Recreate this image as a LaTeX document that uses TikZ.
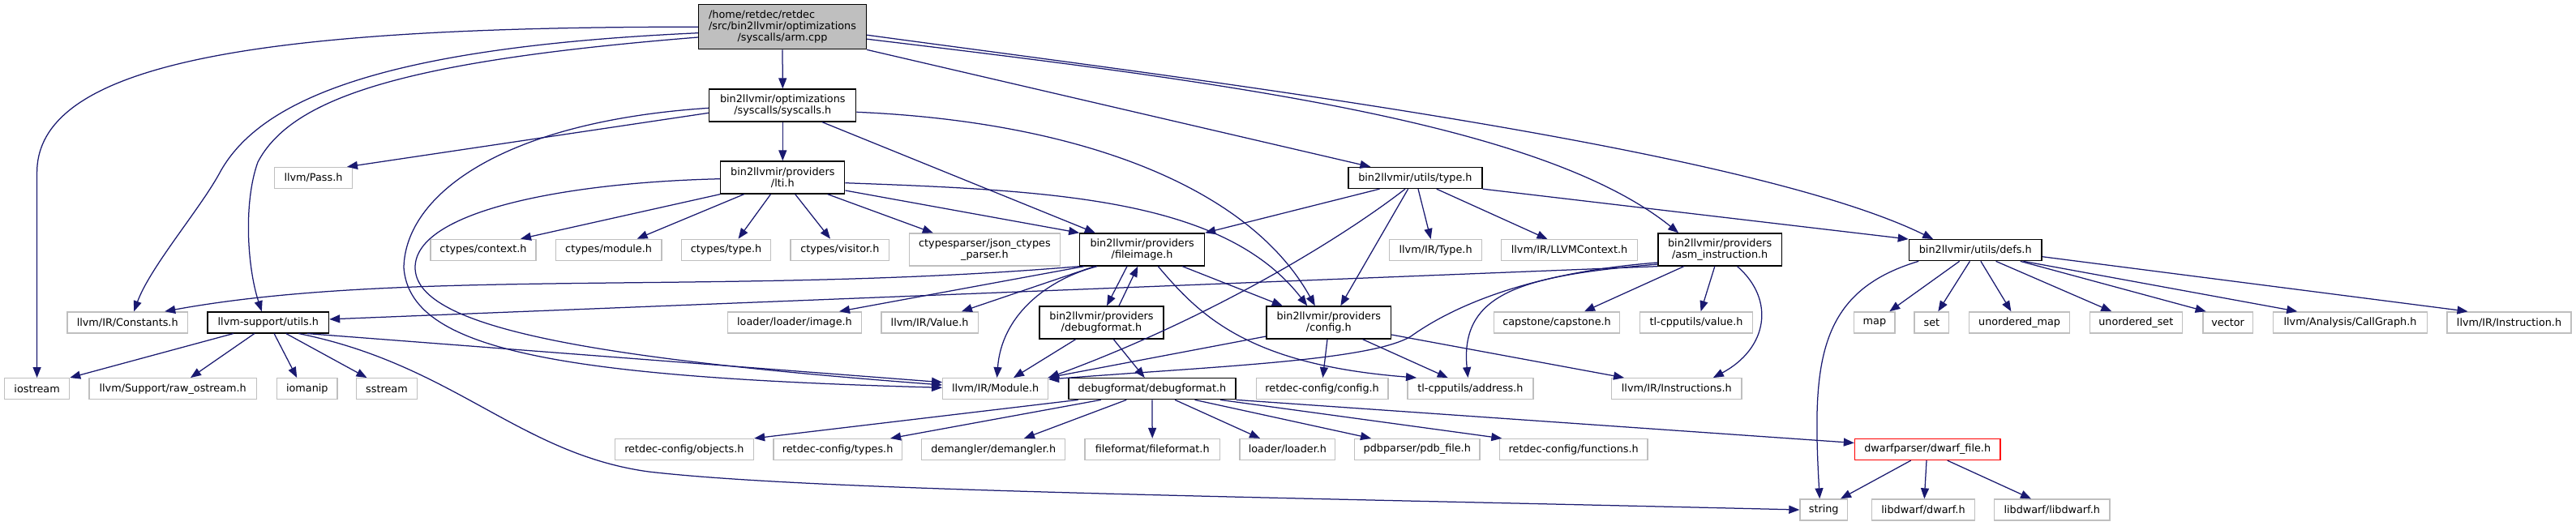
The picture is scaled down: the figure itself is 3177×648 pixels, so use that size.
\documentclass[tikz,border=0pt]{standalone}
\usepackage{fontspec}
\setmainfont{DejaVu Sans}
\usetikzlibrary{arrows.meta}
\definecolor{edgec}{HTML}{191970}
\definecolor{boxgray}{HTML}{BFBFBF}
\begin{document}
\begin{tikzpicture}[x=1pt,y=-1pt,
  nd/.style={rectangle, draw, line width=1.3pt, inner xsep=1pt, inner ysep=0pt,
    minimum height=26pt, align=center, fill=white,
    font=\fontsize{12.8pt}{14pt}\selectfont},
  ext/.style={nd, draw=boxgray},
  own/.style={nd, draw=black},
  two/.style={minimum height=40pt},
  mw/.style={minimum width=#1},
  lnk/.style={draw=edgec, line width=1.25pt, -{Triangle[length=13pt,width=10pt]}}
]
\fill[white] (0,0) rectangle (3177,648);
\useasboundingbox (0,0) rectangle (3177,648);

% row 0-2
\node[own, fill=boxgray, mw=207pt, minimum height=55pt] (arm) at (965,33.2)
  {\rlap{/home/retdec/retdec}\phantom{/src/bin2llvmir/optimizations}\\/src/bin2llvmir/optimizations\\/syscalls/arm.cpp};
\node[own, two, mw=181pt] (sys) at (965.3,130) {bin2llvmir/optimizations\\/syscalls/syscalls.h};
\node[ext, mw=95.4pt] (pass) at (386.5,219.5) {llvm/Pass.h};
\node[own, two, mw=153pt] (lti) at (965.3,219) {bin2llvmir/providers\\/lti.h};
\node[own, mw=165pt] (type) at (1745.4,219.5) {bin2llvmir/utils/type.h};

% row 3
\node[ext, mw=130pt] (ctxt) at (596,308.3) {ctypes/context.h};
\node[ext, mw=130.5pt] (cmod) at (750.6,308.3) {ctypes/module.h};
\node[ext, mw=110pt] (ctyp) at (895.5,308.3) {ctypes/type.h};
\node[ext, mw=121.5pt] (cvis) at (1035.8,308.3) {ctypes/visitor.h};
\node[ext, two, mw=186pt] (json) at (1214.4,308) {ctypesparser/json\_ctypes\\\_parser.h};
\node[own, two, mw=153.6pt] (fimg) at (1408.6,308) {bin2llvmir/providers\\/fileimage.h};
\node[ext, mw=114.4pt] (ltype) at (1770.6,308.7) {llvm/IR/Type.h};
\node[ext, mw=167.7pt] (lctx) at (1935.5,308.7) {llvm/IR/LLVMContext.h};
\node[own, two, mw=152.4pt] (asm) at (2121.2,308) {bin2llvmir/providers\\/asm\_instruction.h};
\node[own, mw=163.7pt] (defs) at (2436.2,308.7) {bin2llvmir/utils/defs.h};

% row 4
\node[ext, mw=148.7pt] (const) at (157.2,397.9) {llvm/IR/Constants.h};
\node[own, mw=149.5pt] (utils) at (330.8,397.9) {llvm-support/utils.h};
\node[ext, mw=165.6pt] (limg) at (980,397.9) {loader/loader/image.h};
\node[ext, mw=119.2pt] (lval) at (1146.6,397.9) {llvm/IR/Value.h};
\node[own, two, mw=153pt] (pdbg) at (1358.5,398) {bin2llvmir/providers\\/debugformat.h};
\node[own, two, mw=153.5pt] (pcfg) at (1638.8,398) {bin2llvmir/providers\\/config.h};
\node[ext, mw=155pt] (caps) at (1920,397.9) {capstone/capstone.h};
\node[ext, mw=139pt] (tval) at (2092,397.9) {tl-cpputils/value.h};
\node[ext, mw=50.3pt] (map) at (2311.9,397.9) {map};
\node[ext, mw=42.8pt] (set) at (2382.4,397.9) {set};
\node[ext, mw=124pt] (umap) at (2490.6,397.9) {unordered\_map};
\node[ext, mw=114pt] (uset) at (2634.3,397.9) {unordered\_set};
\node[ext, mw=61.5pt] (vec) at (2747.6,397.9) {vector};
\node[ext, mw=190.6pt] (cg) at (2898.5,397.9) {llvm/Analysis/CallGraph.h};
\node[ext, mw=153pt] (instr) at (3094.5,397.9) {llvm/IR/Instruction.h};

% row 5
\node[ext, mw=80pt] (ios) at (45.6,479.7) {iostream};
\node[ext, mw=206.4pt] (raw) at (213.2,479.7) {llvm/Support/raw\_ostream.h};
\node[ext, mw=74.4pt] (iom) at (378.8,479.7) {iomanip};
\node[ext, mw=74.4pt] (sst) at (477,479.7) {sstream};
\node[ext, mw=129.8pt] (mod) at (1227.6,479.7) {llvm/IR/Module.h};
\node[own, mw=206pt] (dbgf) at (1420.9,479.7) {debugformat/debugformat.h};
\node[ext, mw=162.7pt] (rcfg) at (1630.6,479.7) {retdec-config/config.h};
\node[ext, mw=155pt] (addr) at (1813.4,479.7) {tl-cpputils/address.h};
\node[ext, mw=160.2pt] (instrs) at (2067.8,479.7) {llvm/IR/Instructions.h};

% row 6
\node[ext, mw=171.2pt] (robj) at (843.9,554.5) {retdec-config/objects.h};
\node[ext, mw=158.2pt] (rtyp) at (1033.1,554.5) {retdec-config/types.h};
\node[ext, mw=176.8pt] (dem) at (1225.2,554.5) {demangler/demangler.h};
\node[ext, mw=166.4pt] (ffmt) at (1421.2,554.5) {fileformat/fileformat.h};
\node[ext, mw=117.8pt] (ldr) at (1587.9,554.5) {loader/loader.h};
\node[ext, mw=154.4pt] (pdb) at (1747.8,554.5) {pdbparser/pdb\_file.h};
\node[ext, mw=182.4pt] (rfun) at (1940.7,554.5) {retdec-config/functions.h};
\node[nd, draw=red, mw=179.5pt] (dwarf) at (2377.2,554.5) {dwarfparser/dwarf\_file.h};

% row 7
\node[ext, mw=58.5pt] (str) at (2249.2,629) {string};
\node[ext, mw=127pt] (ldw) at (2372,629) {libdwarf/dwarf.h};
\node[ext, mw=142.6pt] (libdw) at (2530.7,629) {libdwarf/libdwarf.h};

% ---- edges from arm.cpp
\draw[lnk] (arm.west) .. controls (330,33) and (45.6,75) .. (45.6,213) -- (ios.north);
\draw[lnk] ([yshift=-7.5pt]arm.west) .. controls (480,58) and (320,120) .. (270,215)
  .. controls (245,260) and (185,330) .. ([xshift=8pt]const.north);
\draw[lnk] ([yshift=-12.8pt]arm.west) .. controls (500,75) and (360,120) .. (318,200)
  .. controls (300,250) and (305,330) .. ([xshift=-8pt]utils.north);
\draw[lnk] (arm.south) -- (sys.north);
\draw[lnk] (arm.south east) -- ([xshift=-55pt]type.north);
\draw[lnk] ([yshift=-15pt]arm.east) .. controls (1500,100) and (1900,150) .. ([xshift=-51pt]asm.north);
\draw[lnk] ([yshift=-10pt]arm.east) .. controls (1450,95) and (2150,180) .. ([xshift=-52pt]defs.north);

% ---- syscalls.h
\draw[lnk] ([yshift=-9.3pt]sys.west) -- ([xshift=41.5pt]pass.north);
\draw[lnk] (sys.south) -- (lti.north);
\draw[lnk] ([yshift=-3.3pt]sys.west) .. controls (620,150) and (500,240) .. (498,330)
  .. controls (505,430) and (680,465) .. ([yshift=1.4pt]mod.west);
\draw[lnk] ([xshift=48.7pt]sys.south) -- ([xshift=-57.8pt]fimg.north);
\draw[lnk] ([yshift=-8.3pt]sys.east) .. controls (1330,150) and (1540,230) .. ([xshift=-17pt]pcfg.north);

% ---- lti.h
\draw[lnk] ([yshift=-1.7pt]lti.west) .. controls (700,225) and (512,260) .. (512,330)
  .. controls (512,400) and (700,440) .. ([yshift=4.7pt]mod.west);
\draw[lnk] (lti.south west) -- ([xshift=46pt]ctxt.north);
\draw[lnk] ([xshift=-47.7pt]lti.south) -- ([xshift=35pt]cmod.north);
\draw[lnk] ([xshift=-14.8pt]lti.south) -- ([xshift=15pt]ctyp.north);
\draw[lnk] ([xshift=15.4pt]lti.south) -- ([xshift=-11.8pt]cvis.north);
\draw[lnk] ([xshift=55.4pt]lti.south) -- ([xshift=-63.6pt]json.north);
\draw[lnk] ([yshift=-16pt]lti.east) -- (fimg.north west);
\draw[lnk] ([yshift=-6.7pt]lti.east) .. controls (1300,235) and (1510,245) .. ([xshift=-26.5pt]pcfg.north);

% ---- type.h
\draw[lnk] ([xshift=-43.9pt]type.south) -- (fimg.north east);
\draw[lnk] ([xshift=-12.4pt]type.south) .. controls (1660,290) and (1500,390) .. (mod.north east);
\draw[lnk] ([xshift=-8.8pt]type.south) -- ([xshift=14.5pt]pcfg.north);
\draw[lnk] ([xshift=3.6pt]type.south) -- ([xshift=-6pt]ltype.north);
\draw[lnk] ([xshift=26.3pt]type.south) -- ([xshift=-27pt]lctx.north);
\draw[lnk] (type.south east) -- (defs.north west);

% ---- asm_instruction.h
\draw[lnk] (asm.south west) -- ([yshift=4pt]utils.east);
\draw[lnk] ([yshift=-16pt]asm.west) .. controls (1900,335) and (1800,372) .. (1740,415)
  .. controls (1690,445) and (1500,452) .. ([yshift=-2pt]mod.north east);
\draw[lnk] ([yshift=-18pt]asm.west) .. controls (1880,340) and (1800,360) .. ([xshift=-3pt]addr.north);
\draw[lnk] ([xshift=-44.4pt]asm.south) -- ([xshift=34pt]caps.north);
\draw[lnk] ([xshift=-6.4pt]asm.south) -- ([xshift=5.6pt]tval.north);
\draw[lnk] ([xshift=21.4pt]asm.south) .. controls (2190,370) and (2180,430) .. ([xshift=45pt]instrs.north);

% ---- defs.h
\draw[lnk] ([xshift=-70pt]defs.south) .. controls (2240,360) and (2235,450) .. ([xshift=-5pt]str.north);
\draw[lnk] ([xshift=-19.6pt]defs.south) -- ([xshift=18.4pt]map.north);
\draw[lnk] ([xshift=-6.8pt]defs.south) -- ([xshift=7.9pt]set.north);
\draw[lnk] ([xshift=6.7pt]defs.south) -- ([xshift=-10.2pt]umap.north);
\draw[lnk] ([xshift=25.4pt]defs.south) -- ([xshift=-30pt]uset.north);
\draw[lnk] ([xshift=55.5pt]defs.south) -- ([xshift=-27pt]vec.north);
\draw[lnk] ([xshift=59.2pt]defs.south) -- ([xshift=-65.3pt]cg.north);
\draw[lnk] ([yshift=-8pt]defs.east) -- ([xshift=-51pt]instr.north);

% ---- llvm-support/utils.h
\draw[lnk] ([xshift=-43pt]utils.south) -- (ios.north east);
\draw[lnk] ([xshift=-17pt]utils.south) -- ([xshift=21.8pt]raw.north);
\draw[lnk] ([xshift=7.3pt]utils.south) -- ([xshift=-12.6pt]iom.north);
\draw[lnk] ([xshift=22pt]utils.south) -- ([xshift=-24.5pt]sst.north);
\draw[lnk] ([xshift=48pt]utils.south) -- ([yshift=8pt]mod.west);
\draw[lnk] ([xshift=37.5pt]utils.south) .. controls (560,450) and (640,560) .. (800,582)
  .. controls (1000,605) and (1500,612) .. (str.west);

% ---- fileimage.h
\draw[lnk] (fimg.south west) .. controls (900,365) and (500,330) .. ([xshift=46pt]const.north);
\draw[lnk] ([xshift=-71.6pt]fimg.south) -- ([xshift=55pt]limg.north);
\draw[lnk] ([xshift=-58.6pt]fimg.south) -- ([xshift=39.4pt]lval.north);
\draw[lnk] ([xshift=-55.6pt]fimg.south) .. controls (1290,345) and (1235,390) .. ([xshift=2pt]mod.north);
\draw[lnk] ([xshift=-18.6pt]fimg.south) -- ([xshift=6.5pt]pdbg.north);
\draw[lnk] ([xshift=21.5pt]pdbg.north) -- ([xshift=-5.3pt]fimg.south);
\draw[lnk] ([xshift=19.7pt]fimg.south) .. controls (1480,390) and (1540,450) .. ([xshift=-66.4pt]addr.north);
\draw[lnk] ([xshift=49.7pt]fimg.south) -- ([xshift=-57pt]pcfg.north);

% ---- providers/debugformat.h
\draw[lnk] ([xshift=-31.8pt]pdbg.south) -- ([xshift=22.4pt]mod.north);
\draw[lnk] ([xshift=14.8pt]pdbg.south) -- ([xshift=-9.2pt]dbgf.north);

% ---- providers/config.h
\draw[lnk] ([yshift=-17pt]pcfg.west) -- ([xshift=-1pt]mod.north east);
\draw[lnk] ([xshift=-1.8pt]pcfg.south) -- ([xshift=0.8pt]rcfg.north);
\draw[lnk] ([xshift=41.7pt]pcfg.south) -- ([xshift=-27.7pt]addr.north);
\draw[lnk] ([yshift=-15pt]pcfg.east) -- ([xshift=-64.8pt]instrs.north);

% ---- debugformat/debugformat.h
\draw[lnk] ([xshift=-91.2pt]dbgf.south) -- (robj.north east);
\draw[lnk] ([xshift=-63.1pt]dbgf.south) -- ([xshift=65pt]rtyp.north);
\draw[lnk] ([xshift=-31.6pt]dbgf.south) -- ([xshift=37.8pt]dem.north);
\draw[lnk] (dbgf.south) -- (ffmt.north);
\draw[lnk] ([xshift=28.1pt]dbgf.south) -- ([xshift=-33.9pt]ldr.north);
\draw[lnk] ([xshift=52.6pt]dbgf.south) -- ([xshift=-56.8pt]pdb.north);
\draw[lnk] ([xshift=84pt]dbgf.south) -- ([xshift=-88.4pt]rfun.north);
\draw[lnk] (dbgf.south east) -- ([yshift=8pt]dwarf.west);

% ---- dwarf_file.h
\draw[lnk] ([xshift=-20.5pt]dwarf.south) -- ([xshift=20.8pt]str.north);
\draw[lnk] ([xshift=-1.2pt]dwarf.south) -- ([xshift=1.3pt]ldw.north);
\draw[lnk] ([xshift=24.5pt]dwarf.south) -- ([xshift=-25.7pt]libdw.north);
\end{tikzpicture}
\end{document}
